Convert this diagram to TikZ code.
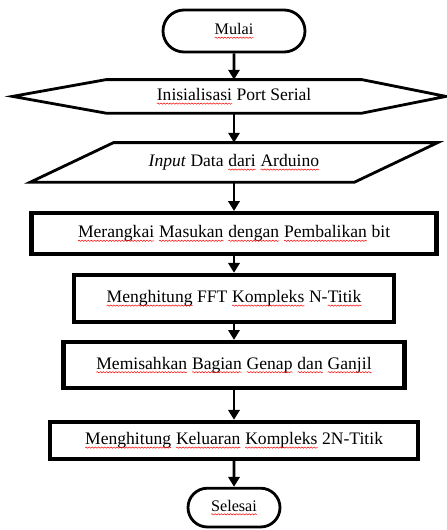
\documentclass[tikz,border=0pt]{standalone}
\usepackage{fontspec}
\setmainfont{Liberation Serif}
\usetikzlibrary{shapes.misc,arrows.meta,decorations.pathmorphing}
% red wavy underline under a word
\newcommand{\ejaan}[1]{\tikz[baseline=(w.base)]{\node[rectangle, draw=none, inner sep=0, outer sep=0, minimum width=0, minimum height=0] (w) {#1};
  \draw[red, line width=0.35pt, decorate, decoration={snake, amplitude=0.45pt, segment length=2.2pt}] ([yshift=-2.2pt]w.base west) -- ([yshift=-2.2pt]w.base east);}}

\begin{document}
\begin{tikzpicture}[>={Triangle[length=7pt,width=8pt]},
terminal/.style={rounded rectangle, draw, line width=2pt, inner sep=0, font=\fontsize{11.5}{13}\selectfont},
proses/.style={rectangle, draw, line width=3pt, inner sep=0, font=\fontsize{12.5}{15}\selectfont},
hidden/.style={rectangle, inner sep=0, font=\fontsize{12.5}{15}\selectfont},
garis/.style={line width=2pt, line join=miter},
flow/.style={->, line width=1.8pt},
]
\useasboundingbox (0,0) rectangle (11.175,13.25); %%%%%%% SIZE OF THE PAGE

%%%%%%%%%%%%%%%%%%%%%%%% NODES %%%%%%%%%%%%%%%%%%%%%%%%%%%
\node[terminal, minimum width=3.55cm, minimum height=1.05cm] (mulai) at (5.85,12.475) {\ejaan{Mulai}};

\node[hidden, minimum width=6.38cm, minimum height=0.825cm] (init) at (5.85,10.84) {\ejaan{Inisialisasi} Port Serial};
\draw[garis] (init.north west) -- (init.north east) -- ([xshift=2.1cm]init.east)
  -- (init.south east) -- (init.south west) -- ([xshift=-2.34cm]init.west) -- cycle; % hexagon

\node[hidden, minimum width=8.09cm, minimum height=0.975cm] (input) at (5.85,9.19) {\textit{Input} Data \ejaan{dari} \ejaan{Arduino}};
\draw[garis] ([xshift=1.04cm]input.north west) -- ([xshift=1.04cm]input.north east)
  -- ([xshift=-1.04cm]input.south east) -- ([xshift=-1.04cm]input.south west) -- cycle; % parallelogram

\node[proses, minimum width=10.125cm, minimum height=1.025cm] (urut) at (5.85,7.41) {\ejaan{Merangkai} \ejaan{Masukan} \ejaan{dengan} \ejaan{Pembalikan} bit};
\node[proses, minimum width=8cm, minimum height=1.175cm] (fft) at (5.85,5.79) {\ejaan{Menghitung} FFT \ejaan{Kompleks} N-\ejaan{Titik}};
\node[proses, minimum width=8.525cm, minimum height=1.15cm] (pisah) at (5.85,4.125) {\ejaan{Memisahkan} \ejaan{Bagian} \ejaan{Genap} \ejaan{dan} \ejaan{Ganjil}};
\node[proses, minimum width=9.2cm, minimum height=0.925cm] (keluar) at (5.85,2.24) {\ejaan{Menghitung} \ejaan{Keluaran} \ejaan{Kompleks} 2N-Titik};

\node[terminal, minimum width=2.3cm, minimum height=0.97cm] (selesai) at (5.85,0.56) {\ejaan{Selesai}};

%%%%%%%%%%%%%%%%%%%%%%%% ARROWS %%%%%%%%%%%%%%%%%%%%%%%%%%%
\draw[flow] (mulai) -- (init.north);
\draw[flow] (init.south) -- (input.north);
\draw[flow] (input.south) -- (urut);
\draw[flow] (urut) -- (fft);
\draw[flow] (fft) -- (pisah);
\draw[flow] (pisah) -- (keluar);
\draw[flow] (keluar) -- (selesai);
\end{tikzpicture}
\end{document}
